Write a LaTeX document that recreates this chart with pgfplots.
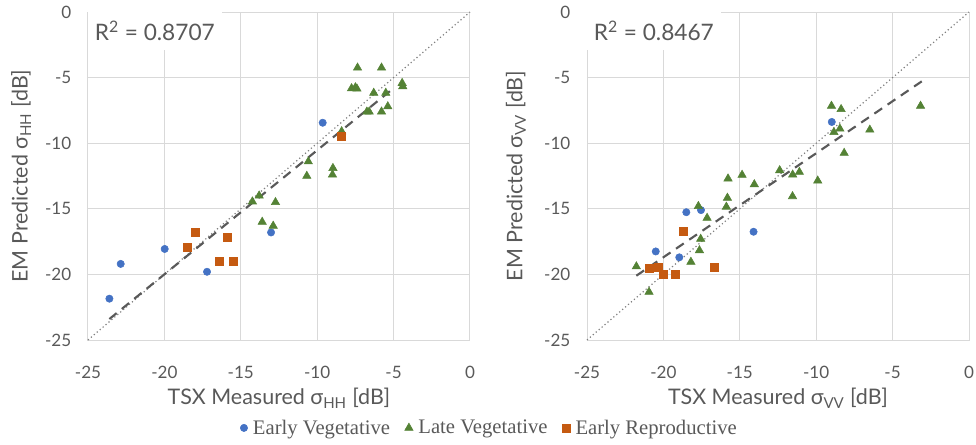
\documentclass[border=0pt]{standalone}
\usepackage{fontspec}
\setmainfont{Lato}
\newfontfamily\legfont{Liberation Serif}
\usepackage{pgfplots}
\pgfplotsset{compat=1.18}

\definecolor{txtgray}{RGB}{89,89,89}
\definecolor{gridgray}{RGB}{217,217,217}
\definecolor{evblue}{RGB}{68,114,196}
\definecolor{lvgreen}{RGB}{84,130,53}
\definecolor{erorange}{RGB}{197,90,17}
\definecolor{trendgray}{RGB}{89,89,89}

\tikzset{
  rsq/.style={fill=white, anchor=north west, inner xsep=5pt, inner ysep=6.5pt,
      font=\fontsize{17}{19}\selectfont, text=txtgray},
}

\pgfplotsset{
  scatterax/.style={
    scale only axis,
    width=286.5pt, height=246pt,
    xmin=-25, xmax=0, ymin=-25, ymax=0,
    xtick={-25,-20,-15,-10,-5,0},
    ytick={-25,-20,-15,-10,-5,0},
    grid=major,
    grid style={gridgray, line width=0.75pt},
    axis line style={gridgray, line width=0.75pt},
    major tick length=0pt,
    xticklabel shift=16pt,
    yticklabel shift=9pt,
    tick label style={font=\fontsize{12.8}{14}\selectfont, text=txtgray},
    /pgf/number format/assume math mode=true,
    label style={font=\fontsize{16.1}{18}\selectfont, text=txtgray},
    xlabel style={at={(axis description cs:0.5,-0.178)}, anchor=center},
    ylabel style={at={(axis description cs:-0.175,0.5)}, anchor=center},
    clip=false,
  },
  evmark/.style={only marks, mark=*, mark size=2.75pt, color=evblue},
  lvmark/.style={only marks, mark=triangle*, mark size=3.6pt, color=lvgreen},
  ermark/.style={only marks, mark=square*, mark size=3pt, color=erorange},
  oneone/.style={gray, line width=0.9pt, dotted, forget plot},
  trend/.style={trendgray, line width=1.6pt, dash pattern=on 7pt off 5pt, forget plot},
}

\begin{document}
\begin{tikzpicture}
\useasboundingbox (-66pt,-78pt) rectangle (666pt,255pt);

% ---- left panel: HH ----
\begin{axis}[
    scatterax,
    at={(0,0)},
    xlabel={TSX Measured σ\textsubscript{HH} [dB]},
    ylabel={EM Predicted σ\textsubscript{HH} [dB]},
    legend columns=3,
    legend style={at={(axis description cs:1.052,-0.268)}, anchor=center,
                  draw=none, fill=none,
                  font=\legfont\fontsize{15.5}{17}\selectfont, text=txtgray,
                  /tikz/every odd column/.append style={column sep=2pt},
                  /tikz/every even column/.append style={column sep=9pt}},
    legend image code/.code={\draw[#1] plot coordinates {(0pt,0pt)};},
]
\addplot[oneone] coordinates {(-25,-25) (0,0)};
\addplot[trend] coordinates {(-23.6,-23.4) (-5.1,-5.9)};

% Early Vegetative
\addplot[evmark] coordinates {
  (-23.6,-21.85) (-22.86,-19.2) (-19.98,-18.06) (-17.21,-19.8)
  (-13.02,-16.8) (-9.64,-8.44)
};
% Late Vegetative
\addplot[lvmark] coordinates {
  (-7.36,-4.25) (-5.79,-4.25) (-7.75,-5.82) (-7.5,-5.75) (-7.4,-5.85)
  (-6.3,-6.17) (-5.51,-6.17) (-4.44,-5.42) (-4.4,-5.67) (-6.75,-7.6)
  (-6.6,-7.6) (-5.79,-7.6) (-5.38,-7.2) (-8.4,-9.1) (-10.58,-11.4)
  (-10.68,-12.5) (-8.97,-11.9) (-9.0,-12.4) (-13.8,-14.0) (-14.24,-14.45)
  (-12.73,-14.5) (-13.6,-16.0) (-12.88,-16.3)
};
% Early Reproductive
\addplot[ermark] coordinates {
  (-18.52,-17.9) (-18.0,-16.76) (-16.43,-19.0) (-15.87,-17.2)
  (-15.52,-19.0) (-8.41,-9.5)
};
\legend{Early Vegetative, Late Vegetative, Early Reproductive}

\node[rsq] at (rel axis cs:0,1) {R\textsuperscript{2} = 0.8707};
\end{axis}

% ---- right panel: VV ----
\begin{axis}[
    scatterax,
    at={(374.25pt,0)},
    xlabel={TSX Measured σ\textsubscript{VV} [dB]},
    ylabel={EM Predicted σ\textsubscript{VV} [dB]},
    ylabel style={at={(axis description cs:-0.186,0.5)}},
]
\addplot[oneone] coordinates {(-25,-25) (0,0)};
\addplot[trend] coordinates {(-21.77,-20.1) (-3.06,-5.26)};

\addplot[evmark] coordinates {
  (-8.98,-8.38) (-18.5,-15.26) (-17.54,-15.1) (-20.5,-18.25)
  (-18.96,-18.7) (-14.1,-16.75)
};
\addplot[lvmark] coordinates {
  (-21.77,-19.4) (-20.94,-21.34) (-18.2,-19.05) (-17.64,-18.17)
  (-17.56,-17.3) (-17.71,-14.8) (-17.14,-15.7) (-15.88,-14.85)
  (-15.81,-14.17) (-11.55,-14.05) (-14.05,-13.14) (-9.9,-12.86)
  (-15.77,-12.7) (-14.85,-12.42) (-12.39,-12.07) (-11.54,-12.4)
  (-11.1,-12.2) (-9.0,-7.16) (-8.37,-7.41) (-8.84,-9.16)
  (-8.45,-8.9) (-8.17,-10.75) (-6.49,-8.98) (-3.17,-7.16)
};
\addplot[ermark] coordinates {
  (-18.67,-16.68) (-20.94,-19.56) (-20.31,-19.44) (-19.98,-20.0)
  (-19.22,-20.0) (-16.66,-19.44)
};

\node[rsq] at (rel axis cs:0,1) {R\textsuperscript{2} = 0.8467};
\end{axis}

\end{tikzpicture}
\end{document}
